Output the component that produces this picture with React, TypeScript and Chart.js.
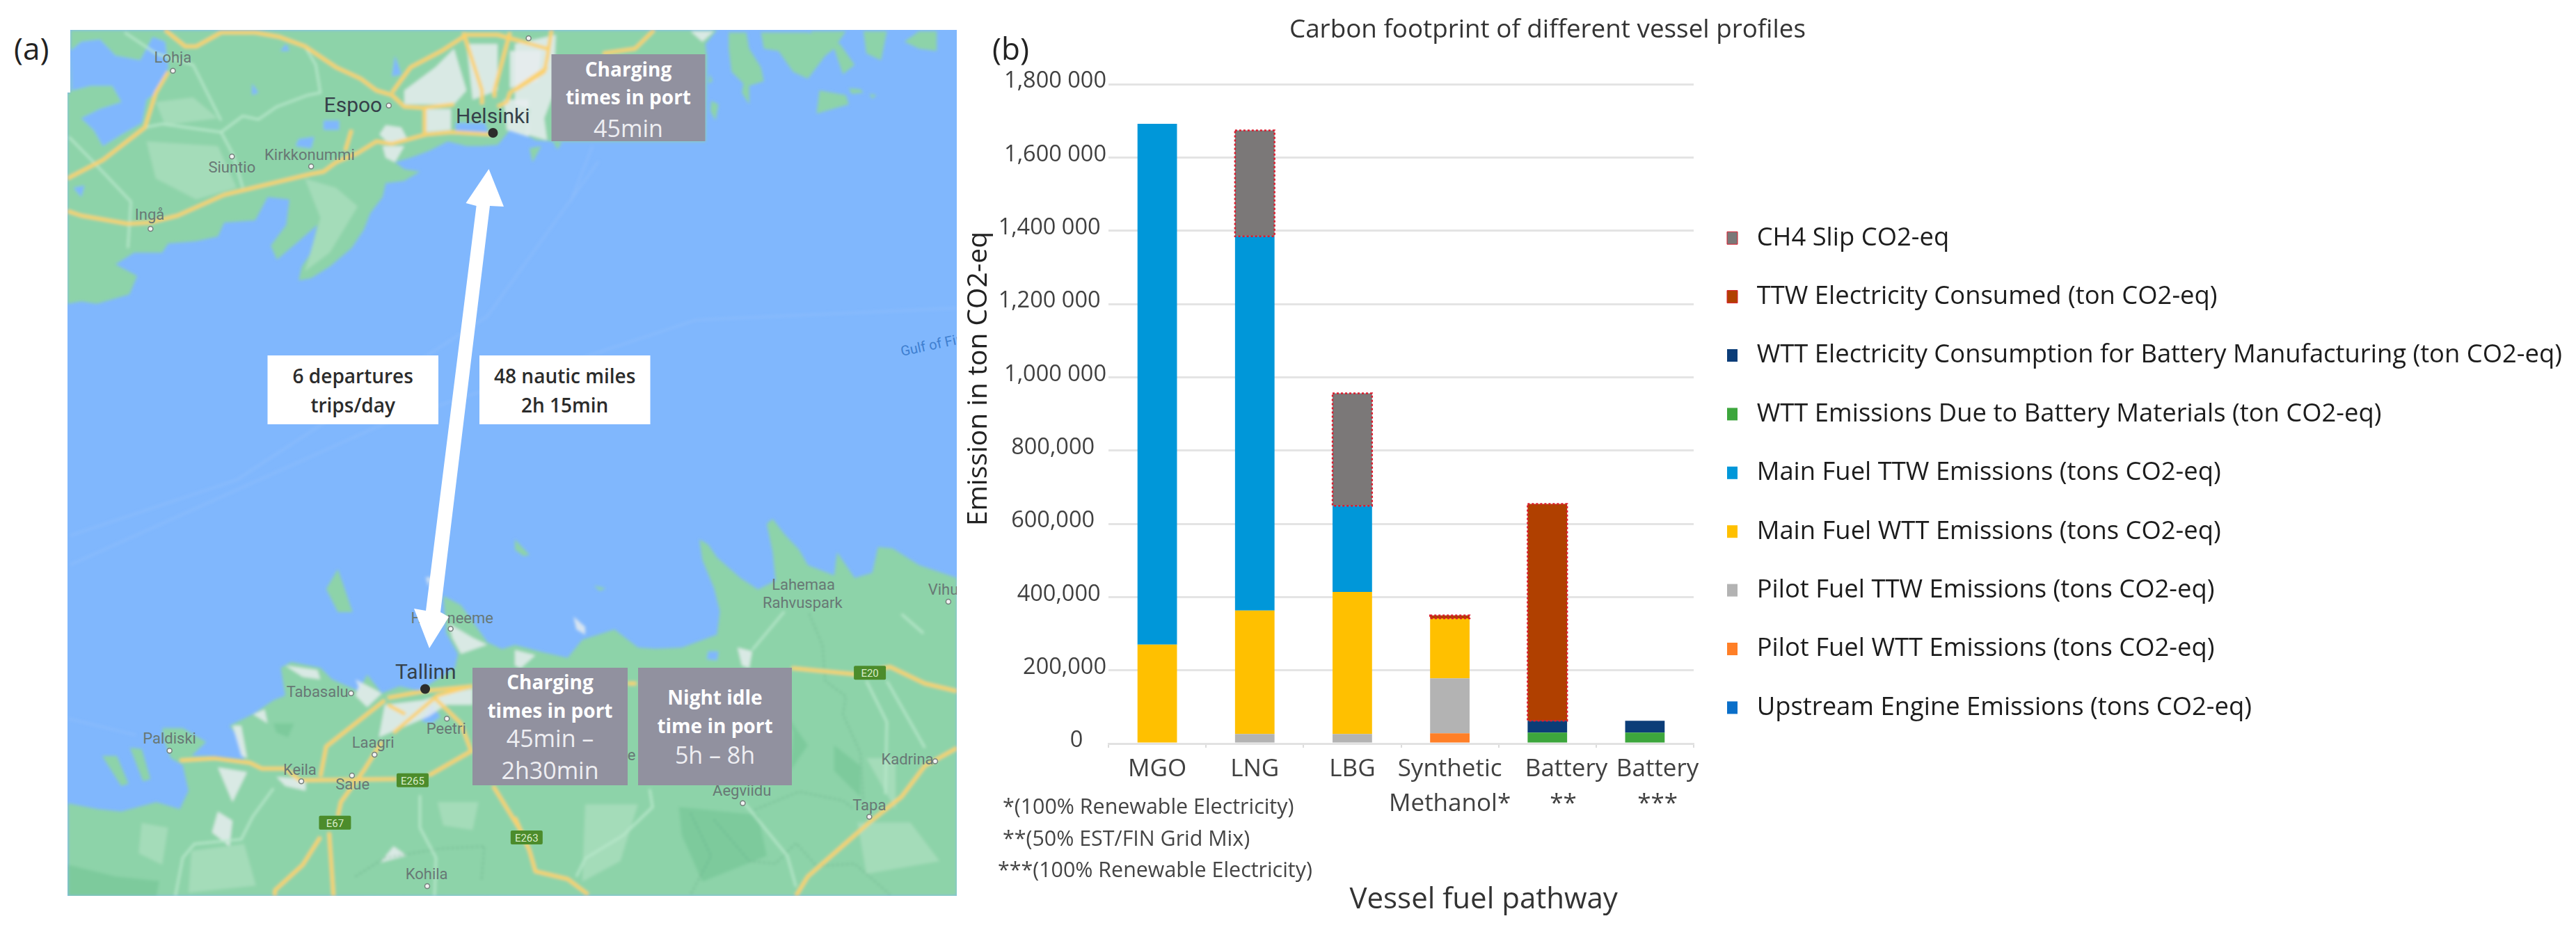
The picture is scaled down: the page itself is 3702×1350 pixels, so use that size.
import React, { useEffect, useRef } from "react";
import { Chart, registerables } from "chart.js";

Chart.register(...registerables);

const categories: (string | string[])[] = ["MGO", "LNG", "LBG", ["Synthetic", "Methanol*"], ["Battery", "**"], ["Battery", "***"]];
const upstreamEngine = [0, 0, 0, 0, 0, 0];
const pilotWtt = [0, 3000, 3000, 28000, 0, 0];
const pilotTtw = [0, 23000, 23000, 150000, 0, 0];
const mainWtt = [270000, 337000, 388000, 164000, 0, 0];
const mainTtw = [1422000, 1022000, 235000, 0, 0, 0];
const batteryMaterials = [0, 0, 0, 0, 30000, 30000];
const batteryElectricity = [0, 0, 0, 0, 32000, 32000];
const ttwElectricity = [0, 0, 0, 8000, 592000, 0];
const ch4Slip = [0, 289000, 307000, 0, 0, 0];
const yTickLabels = ["0", "200,000", "400,000", "600,000", "800,000", "1,000 000", "1,200 000", "1,400 000", "1,600 000", "1,800 000"];
const footnotes = ["*(100% Renewable Electricity)", "**(50% EST/FIN Grid Mix)", "***(100% Renewable Electricity)"];
const chartTitle = "Carbon footprint of different vessel profiles";
const xTitle = "Vessel fuel pathway";
const yTitle = "Emission in ton CO2-eq";

const FONT = "'Open Sans'";
const NB = "\u00A0";
const yTickTrail = [4, 0, 1, 2, 2, 0, 1, 1, 0, 0];
const xLabelLead: number[][] = [[0], [0], [0], [0, 0], [6, 5], [4, 4]];

const seriesDefs: any[] = [
  { label: "Upstream Engine Emissions (tons CO2-eq)", data: upstreamEngine, color: "#0a6fc9" },
  { label: "Pilot Fuel WTT Emissions (tons CO2-eq)", data: pilotWtt, color: "#ff7f27" },
  { label: "Pilot Fuel TTW Emissions (tons CO2-eq)", data: pilotTtw, color: "#b3b3b3" },
  { label: "Main Fuel WTT Emissions (tons CO2-eq)", data: mainWtt, color: "#ffc000" },
  { label: "Main Fuel TTW Emissions (tons CO2-eq)", data: mainTtw, color: "#0097d9" },
  { label: "WTT Emissions Due to Battery Materials (ton CO2-eq)", data: batteryMaterials, color: "#3da63d" },
  { label: "WTT Electricity Consumption for Battery Manufacturing (ton CO2-eq)", data: batteryElectricity, color: "#0b3d78" },
  { label: "TTW Electricity Consumed (ton CO2-eq)", data: ttwElectricity, color: "#b04000", dotted: true },
  { label: "CH4 Slip CO2-eq", data: ch4Slip, color: "#7b7878", dotted: true },
];

const dottedBorders = {
  id: "dottedBorders",
  afterDatasetsDraw(chart: any) {
    const ctx = chart.ctx;
    seriesDefs.forEach((s, i) => {
      if (!s.dotted) return;
      chart.getDatasetMeta(i).data.forEach((el: any, j: number) => {
        if (!s.data[j]) return;
        const { x, y, base, width } = el.getProps(["x", "y", "base", "width"], true);
        ctx.save();
        ctx.strokeStyle = "#dc1c2e";
        ctx.lineWidth = 2.5;
        ctx.setLineDash([3, 3]);
        ctx.strokeRect(x - width / 2, y, width, base - y);
        ctx.restore();
      });
    });
  },
};

const placeBlocks = {
  id: "placeBlocks",
  afterLayout(chart: any) {
    chart.titleBlock.left = 513;
    chart.titleBlock.right = 1500;
    chart.legend.top = 276;
    chart.legend.bottom = 1350;
    chart.legend.right = 2362;
  },
};

/* ---------- map panel: sketch, drawn as SVG ---------- */
type Crop = { x: number; y: number; sx: number; sy: number };
const A: Crop = { x: 90, y: 30, sx: 2.24, sy: 3 };
const B: Crop = { x: 740, y: 30, sx: 2.376, sy: 3 };
const C: Crop = { x: 90, y: 800, sx: 2.376, sy: 3 };
const D: Crop = { x: 740, y: 720, sx: 2.376, sy: 2.703 };
const R: Crop = { x: 0, y: 0, sx: 1, sy: 1 };

const pt = (c: Crop, x: number, y: number): [number, number] => [c.x + x / c.sx, c.y + y / c.sy];
const conv = (c: Crop, s: string) =>
  s.trim().split(/\s+/).map((p) => {
    const [x, y] = p.split(",").map(Number);
    const [a, b] = pt(c, x, y);
    return a.toFixed(1) + " " + b.toFixed(1);
  });
const poly = (...parts: [Crop, string][]) => "M" + parts.flatMap(([c, s]) => conv(c, s)).join(" L") + " Z";
const line = (c: Crop, s: string) => "M" + conv(c, s).join(" L");

const LAND = "#8dd3a9";
const WATER = "#80b7fd";
const LIGHT = "#a4dcb9";
const DARK = "#7dca9c";
const URBAN = "#e6ecee";
const ROAD = "#fbd16a";
const THIN = "#b8e8cb";

const mapOutline = "M101 43 L1375 43 L1375 1288 L97 1288 L97 133 L101 133 Z";

const northLand = poly(
  [A, "15,1220 15,310 25,310 25,40 1568,40"],
  [B, "690,40 650,100 655,150 650,520 125,520 70,515 30,480 50,400"],
  [A, "1520,510 1480,490 1440,470 1410,520 1400,535 1350,540 1300,540 1240,520 1180,560 1120,590 1070,610 1100,640 1150,650 1100,690 1040,700 1030,760 990,830 970,900 930,980 860,1060 800,1110 760,1120 770,1060 800,1000 820,880 760,950 690,1030 670,970 720,880 730,770 660,760 620,860 520,870 500,930 430,950 340,960 320,1000 230,1000 170,1050 240,1100 215,1180 110,1220 60,1210"]
);
const southLand = poly(
  [C, "18,1065 120,1090 200,1100 320,1060 400,1090 430,1010 410,900 370,870 345,790 340,740 410,740 490,800 440,860 500,860 620,875 600,780 570,730 650,680 720,620 760,600 745,480 780,455 880,480 920,530 1010,580 1040,510 1090,590 1150,560 1220,580 1340,480 1350,420 1310,330 1300,170 1360,210 1450,370 1500,400"],
  [D, "0,560 100,590 180,610 230,540 340,500 420,570 480,575 570,570 690,520 700,430 680,340 640,230 630,150 660,170 690,220 770,300 830,345 890,310 880,200 860,90 880,70 920,130 970,190 1000,250 1090,290 1100,200 1160,300 1220,280 1240,180 1290,185 1380,250 1510,300 1510,1535"],
  [C, "18,1465"]
);
const landIslands = [
  poly([B, "730,50 790,50 800,120 840,200 850,260 800,280 800,360 775,310 780,270 740,220 730,120"]),
  poly([B, "840,50 1000,50 1110,100 1160,190 1120,230 1090,120 1060,150 1000,250 950,220 900,130 850,120"]),
  poly([B, "1010,45 1130,45 1100,100 1020,90"]),
  poly([B, "1190,45 1270,45 1250,170 1200,140"]),
  poly([B, "1330,90 1380,45 1440,45 1440,130 1380,120"]),
  poly([B, "1040,300 1130,320 1140,360 1030,400"]),
  poly([B, "1140,290 1180,295 1190,310 1150,315"]),
  poly([B, "1210,315 1235,320 1220,335"]),
  poly([B, "50,550 90,540 60,610"]),
  poly([B, "130,520 160,525 145,555"]),
  poly([B, "665,230 675,260 660,270"]),
  poly([B, "670,345 695,360 685,430 668,390"]),
  poly([C, "940,55 990,240 940,240 900,140"]),
  poly([C, "135,860 185,860 225,980 200,990"]),
  poly([C, "230,825 270,830 300,960 275,970"]),
  poly([D, "0,150 50,210 30,215 0,190"]),
  poly([D, "270,330 310,340 290,350"]),
];
const lakes = [
  poly([A, "25,130 60,90 120,80 170,150 250,170 290,70 330,90 340,200 310,300 270,340 255,440 190,490 130,540 100,470 60,420 120,380 190,350 160,280 90,280 30,300"]),
  poly([A, "610,270 630,310 610,320"]),
  poly([A, "720,100 730,130 700,130"]),
  poly([A, "840,430 890,430 890,470 840,470"]),
  poly([A, "760,510 810,500 800,550 750,540"]),
  poly([A, "1070,150 1090,230 1060,240"]),
  poly([A, "35,720 70,710 60,760"]),
  poly([A, "1265,440 1360,440 1370,480 1340,490 1265,490"]),
  poly([C, "1260,640 1290,690 1260,720 1225,710"]),
  poly([D, "660,585 695,585 690,620 655,615"]),
];
const lightPatches = [
  poly([A, "300,350 420,330 500,420 330,450"]),
  poly([A, "270,520 500,540 560,720 430,770 300,680"]),
  poly([A, "780,680 880,720 950,800 860,1000 780,1080 830,850"]),
  poly([C, "270,1150 360,1170 340,1330 260,1280"]),
  poly([C, "1280,1060 1420,1060 1400,1180 1300,1160"]),
  poly([C, "440,1270 620,1240 660,1420 430,1450"]),
  poly([D, "1200,1000 1300,1000 1300,1200"]),
  poly([D, "1170,1250 1350,1250 1450,1400 1200,1450"]),
  poly([D, "240,1180 420,1180 360,1400 230,1480"]),
];
const darkPatches = [
  poly([C, "720,720 790,720 770,780 730,760"]),
  poly([C, "18,1330 180,1380 330,1400 320,1465 18,1465"]),
  poly([D, "560,1190 830,1220 860,1380 640,1480 570,1300"]),
  poly([D, "1090,950 1180,1030 1180,1150 1090,1050"]),
  poly([D, "920,820 1000,950 940,1050 950,900"]),
];
const urbanPatches = [
  poly([A, "1100,300 1200,200 1260,120 1300,300 1260,360 1100,360"]),
  poly([A, "1170,380 1250,380 1250,470 1170,480"]),
  poly([A, "1040,450 1090,460 1110,510 1050,530 1020,490"]),
  poly([A, "1440,130 1540,130 1530,260 1440,290"]),
  poly([A, "1300,100 1400,100 1400,300 1320,340"]),
  poly([A, "1420,340 1500,340 1500,500 1430,470"]),
  poly([A, "1030,540 1100,540 1070,610 1040,590"]),
  poly([B, "0,100 140,60 130,320 100,420 110,515 40,490 50,380 0,360"]),
  poly([B, "600,45 680,45 640,90"]),
  poly([C, "530,910 630,930 580,1060 560,1000"]),
  poly([C, "510,1190 530,1100 580,1140 570,1250"]),
  poly([C, "1000,530 1090,590 1040,650 1000,600 1010,560"]),
  poly([C, "1100,640 1230,620 1280,600 1400,570 1400,640 1310,640 1250,690 1080,780"]),
  poly([C, "760,470 870,490 880,530 820,520"]),
  poly([C, "650,680 690,660 700,720"]),
  poly([C, "580,730 610,730 630,870 610,860"]),
  poly([C, "1320,290 1400,350 1450,380 1360,420 1330,350"]),
  poly([C, "730,950 830,960 830,1010 760,990"]),
  poly([C, "1085,1320 1130,1250 1175,1290"]),
  poly([C, "1240,90 1260,90 1250,130"]),
  poly([D, "0,580 70,600 20,650 0,640"]),
  poly([D, "760,570 810,585 800,650 775,640"]),
  poly([D, "200,450 240,490 240,520 210,500"]),
];
const mainRoads = [
  line(A, "330,40 395,110 430,110 510,50 620,50 700,70 780,110 880,200 960,250 1010,300 1060,320 1100,370 1160,375 1260,360"),
  line(A, "340,220 300,310 265,460 130,600 15,680"),
  line(A, "15,820 60,840 210,875 280,870 370,840 520,750 800,660 840,650 880,610 950,570 1010,520 1060,530 1170,490 1250,480 1380,490"),
  line(A, "1060,310 1120,200 1220,130 1300,60 1400,60 1560,120"),
  line(A, "1165,375 1165,490"),
  line(A, "1290,50 1350,300 1350,360"),
  line(A, "1440,50 1390,300 1390,330"),
  line(A, "1560,200 1440,310 1430,350 1400,370"),
  line(A, "930,470 910,560"),
  line(B, "125,40 110,160 100,220 0,300"),
  line(B, "300,140 410,120 475,40"),
  line(C, "400,880 520,870 640,890 680,915 760,915 810,965 1140,960"),
  line(C, "1250,945 1395,840 1360,720 1270,610"),
  line(C, "1395,560 1280,600 1130,760"),
  line(C, "1110,610 1240,580 1400,560"),
  line(C, "1100,620 900,820 880,950"),
  line(C, "1110,640 1170,680"),
  line(C, "1090,800 1030,920 950,1060 940,1120"),
  line(C, "910,1190 925,1465"),
  line(C, "880,1210 820,1330 725,1440 725,1465"),
  line(C, "1470,990 1568,1190"),
  line(D, "945,650 1170,675 1280,645 1400,710 1510,740"),
  line(D, "385,710 415,710"),
  line(D, "0,1230 50,1360 70,1440 180,1470 250,1530"),
  line(D, "1510,960 1400,1030 1320,1150 1210,1250 1130,1330 1000,1460 960,1535"),
];
const thinRoads = [
  line(A, "265,460 320,445 510,480 580,410 630,425 690,370 790,320 830,310 815,190 780,110"),
  line(A, "510,480 550,580 580,720"),
  line(A, "20,500 100,610 220,780 210,980"),
  line(A, "200,50 300,140 420,190 510,430"),
  line(C, "720,1000 650,1120 610,1220 450,1240 410,1300 385,1465"),
  line(C, "1220,1030 1220,1170 1275,1300 1270,1465"),
  line(D, "810,580 920,430"),
  line(D, "460,1120 470,1190 370,1300 240,1390 210,1460"),
  line(D, "780,1170 930,1380 960,1500"),
  line(D, "1200,700 1270,860 1265,1140"),
  line(D, "1270,700 1400,960"),
  line(D, "1320,440 1395,515"),
];
const trails = [
  line(D, "1005,440 1050,560 1060,700 1130,760 1120,830 1180,980 1190,1160"),
  line(D, "600,1215 670,1380 600,1530"),
  line(D, "680,1240 800,1400 890,1410 960,1330 1030,1420 1160,1410 1280,1530"),
  line(D, "820,1200 970,1130 1120,1165 1160,1200"),
  line(C, "1000,1380 1100,1300 1290,1260 1440,1250 1430,1400"),
];
const seaLanes = [
  line(B, "265,540 190,780"),
  line(R, "101,770 340,690 700,455 860,232"),
  line(R, "101,812 550,610 1000,460 1375,443"),
  line(C, "20,700 250,770"),
];

const bigLabels: [string, Crop, number, number][] = [
  ["Espoo", A, 935, 360],
  ["Helsinki", A, 1385, 408],
  ["Tallinn", C, 1240, 495],
];
const smallLabels: [string, Crop, number, number][] = [
  ["Lohja", A, 355, 158],
  ["Siuntio", A, 545, 632],
  ["Kirkkonummi", A, 795, 578],
  ["Ingå", A, 280, 838],
  ["Tabasalu", C, 870, 585],
  ["Paldiski", C, 365, 785],
  ["Keila", C, 810, 920],
  ["Saue", C, 990, 985],
  ["Laagri", C, 1060, 805],
  ["Peetri", C, 1310, 745],
  ["Kohila", C, 1243, 1370],
  ["Haabneeme", C, 1330, 268],
  ["Lahemaa", D, 985, 328],
  ["Rahvuspark", D, 982, 398],
  ["Vihula", D, 1483, 345],
  ["Kadrina", D, 1340, 1005],
  ["Aegviidu", D, 775, 1128],
  ["Tapa", D, 1210, 1185],
  ["e", D, 398, 990],
];
const townDots: [Crop, number, number][] = [
  [A, 355, 215], [A, 545, 585], [A, 800, 628], [A, 283, 897], [A, 1500, 75], [A, 1050, 365],
  [C, 985, 590], [C, 365, 838], [C, 815, 970], [C, 988, 945], [C, 1065, 855], [C, 1312, 700], [C, 1245, 1422], [C, 1325, 312],
  [D, 778, 1175], [D, 1210, 1228], [D, 1435, 1012], [D, 1480, 392],
];
const shields: [string, Crop, number, number][] = [["E265", C, 1195, 965], ["E67", C, 930, 1148], ["E263", D, 40, 1308], ["E20", D, 1212, 668]];

const greyBoxes = [
  { x: 792.5, y: 78, w: 221, h: 125, bold: [["Charging", 100], ["times in port", 140]], thin: [["45min", 185]] },
  { x: 679, y: 960, w: 223, h: 169, bold: [["Charging", 981], ["times in port", 1021.5]], thin: [["45min –", 1062], ["2h30min", 1108]] },
  { x: 917, y: 960, w: 221, h: 169, bold: [["Night idle", 1003], ["time in port", 1044]], thin: [["5h – 8h", 1086]] },
];
const whiteBoxes = [
  { x: 384.5, lines: ["6 departures", "trips/day"] },
  { x: 689, lines: ["48 nautic miles", "2h 15min"] },
];

function MapPanel() {
  const p = (c: Crop, x: number, y: number) => {
    const [a, b] = pt(c, x, y);
    return { x: a, y: b };
  };
  return (
    <svg viewBox="0 0 1400 1350" style={{ position: "absolute", left: 0, top: 0, width: 1400, height: 1350 }}>
      <defs>
        <clipPath id="mapClip"><path d={mapOutline} /></clipPath>
        <filter id="soft" x="-5%" y="-5%" width="110%" height="110%"><feGaussianBlur stdDeviation="2" /></filter>
      </defs>
      <g clipPath="url(#mapClip)">
        <path d={mapOutline} fill={WATER} />
        <g filter="url(#soft)">
          <path d={northLand} fill={LAND} />
          <path d={southLand} fill={LAND} />
          {landIslands.map((d) => <path key={d} d={d} fill={LAND} />)}
          {lightPatches.map((d) => <path key={d} d={d} fill={LIGHT} />)}
          {darkPatches.map((d) => <path key={d} d={d} fill={DARK} />)}
          {lakes.map((d) => <path key={d} d={d} fill={WATER} />)}
          {urbanPatches.map((d) => <path key={d} d={d} fill={URBAN} fillOpacity={0.85} />)}
          {seaLanes.map((d) => <path key={d} d={d} fill="none" stroke="#93c0fb" strokeWidth={1.5} />)}
          {trails.map((d) => <path key={d} d={d} fill="none" stroke="#5fa680" strokeWidth={1.5} strokeDasharray="3 4" />)}
          {thinRoads.map((d) => <path key={d} d={d} fill="none" stroke={THIN} strokeWidth={3} strokeLinejoin="round" />)}
          {mainRoads.map((d) => <path key={d} d={d} fill="none" stroke={ROAD} strokeWidth={5} strokeLinejoin="round" />)}
        </g>
        {townDots.map(([c, x, y]) => {
          const q = p(c, x, y);
          return <circle key={q.x + "-" + q.y} cx={q.x} cy={q.y} r={3.5} fill="#f2f2f2" stroke="#74807c" strokeWidth={1.5} />;
        })}
        {shields.map(([t, c, x, y]) => {
          const q = p(c, x, y);
          return (
            <g key={t}>
              <rect x={q.x - 23} y={q.y - 10} width={46} height={20} rx={2} fill="#4c8c2b" />
              <text x={q.x} y={q.y + 6} textAnchor="middle" fontFamily="Roboto" fontSize={15} fill="#d9edc9">{t}</text>
            </g>
          );
        })}
        {smallLabels.map(([t, c, x, y]) => {
          const q = p(c, x, y);
          return <text key={t} x={q.x} y={q.y + 7} textAnchor="middle" fontFamily="Roboto" fontSize={22} fill="#687875">{t}</text>;
        })}
        {bigLabels.map(([t, c, x, y]) => {
          const q = p(c, x, y);
          return <text key={t} x={q.x} y={q.y + 11} textAnchor="middle" fontFamily="Roboto" fontSize={30} fill="#36414a">{t}</text>;
        })}
        <text x={1296} y={512} fontFamily="Roboto" fontSize={20} fill="#3f7fd0" transform="rotate(-12 1296 512)">Gulf of Finland</text>
        <circle cx={708.5} cy={191} r={7} fill="#2c2c2c" />
        <circle cx={611} cy={990.5} r={7} fill="#2c2c2c" />
        <path d="M702.5 243 L724 297 L704 296 L633 880 L645 887 L617 932 L595 875 L612 878 L684.6 296 L669.5 292 Z" fill="#fff" />
      </g>
      {greyBoxes.map((b) => (
        <g key={b.x} fontFamily={FONT} textAnchor="middle">
          <rect x={b.x} y={b.y} width={b.w} height={b.h} fill="#91919f" />
          {b.bold.map(([t, y]) => <text key={t} x={b.x + b.w / 2} y={(y as number) + 10} fontSize={28} fontWeight={700} fill="#fff">{t}</text>)}
          {b.thin.map(([t, y]) => <text key={t} x={b.x + b.w / 2} y={(y as number) + 12} fontSize={34} fill="#eeeef2">{t}</text>)}
        </g>
      ))}
      {whiteBoxes.map((b) => (
        <g key={b.x} fontFamily={FONT} textAnchor="middle">
          <rect x={b.x} y={511} width={245.5} height={99} fill="#fff" />
          {b.lines.map((t, i) => <text key={t} x={b.x + 122.7} y={551 + i * 42} fontSize={28} fontWeight={600} fill="#2b2b2b">{t}</text>)}
        </g>
      ))}
    </svg>
  );
}

export default function App() {
  const ref = useRef<HTMLCanvasElement>(null);
  useEffect(() => {
    const chart = new Chart(ref.current as any, {
      type: "bar",
      data: {
        labels: categories as any,
        datasets: seriesDefs.map((s) => ({
          label: s.label,
          data: s.data,
          backgroundColor: s.color,
          borderWidth: 0,
          barPercentage: 1,
          categoryPercentage: 0.405,
        })),
      },
      plugins: [dottedBorders, placeBlocks],
      options: {
        animation: false,
        responsive: false,
        devicePixelRatio: 1,
        layout: { padding: { left: 43, right: 268, top: 21, bottom: 0 } },
        plugins: {
          title: {
            display: true,
            text: chartTitle,
            align: "start",
            color: "#333",
            font: { family: FONT, size: 36.8, weight: "normal" },
            padding: { top: 0, bottom: 56 },
          },
          legend: {
            position: "right",
            align: "start",
            reverse: true,
            maxWidth: 1000,
            labels: {
              boxWidth: 15,
              boxHeight: 18,
              padding: 48,
              color: "#1c1c1c",
              font: { family: FONT, size: 36.4 },
              generateLabels: (c: any) =>
                c.data.datasets.map((d: any, i: number) => ({
                  text: NB + d.label,
                  fillStyle: d.backgroundColor,
                  strokeStyle: "#dc1c2e",
                  lineWidth: seriesDefs[i].dotted ? 1 : 0,
                  datasetIndex: i,
                  fontColor: "#1c1c1c",
                })),
            },
          },
          tooltip: { enabled: false },
        },
        scales: {
          x: {
            stacked: true,
            afterFit: (s: any) => { s.height = 281; },
            grid: { drawOnChartArea: false, drawTicks: true, tickLength: 6, color: "#dcdcdc", lineWidth: 2 },
            border: { color: "#e2e2e2", width: 3 },
            ticks: {
              color: "#404040",
              padding: 6,
              maxRotation: 0,
              autoSkip: false,
              font: { family: FONT, size: 35, lineHeight: 1.43 },
              callback: (_v: any, i: number) => {
                const cat = categories[i];
                if (Array.isArray(cat)) return cat.map((t, k) => NB.repeat(xLabelLead[i][k]) + t);
                return cat;
              },
            },
            title: {
              display: true,
              text: xTitle + NB.repeat(10),
              align: "end",
              color: "#333",
              font: { family: FONT, size: 42 },
              padding: { top: 0, bottom: 31 },
            },
          },
          y: {
            stacked: true,
            min: 0,
            max: 1800000,
            afterFit: (s: any) => { s.width = 210; },
            grid: { color: "#e4e4e4", lineWidth: 3, drawTicks: false },
            border: { display: false },
            ticks: {
              stepSize: 200000,
              padding: 3,
              labelOffset: -4,
              color: "#404040",
              font: { family: FONT, size: 32.5 },
              callback: (v: any) => {
                const i = Math.round(v / 200000);
                return yTickLabels[i] + NB.repeat(yTickTrail[i]);
              },
            },
            title: {
              display: true,
              text: NB.repeat(10) + yTitle,
              color: "#222",
              font: { family: FONT, size: 39 },
              padding: { top: 0, bottom: 0 },
            },
          },
        },
      } as any,
    });
    return () => chart.destroy();
  }, []);

  const panelLabel = (t: string, x: number) => (
    <div style={{ position: "absolute", left: x, top: 39, fontFamily: FONT, fontSize: 44, lineHeight: "60px", color: "#222" }}>{t}</div>
  );

  return (
    <div style={{ position: "absolute", left: 0, top: 0, width: 3702, height: 1350, background: "#fff", overflow: "hidden" }}>
      <MapPanel />
      {panelLabel("(a)", 20)}
      <canvas ref={ref} width={2362} height={1350} style={{ position: "absolute", left: 1340, top: 0, display: "block" }} />
      {panelLabel("(b)", 1426)}
      {footnotes.map((t, i) => (
        <div key={t} style={{ position: "absolute", left: i === 2 ? 1434 : 1441, top: 1138 + i * 45.5, fontFamily: FONT, fontSize: 30.4, lineHeight: "42px", color: "#444", whiteSpace: "nowrap" }}>{t}</div>
      ))}
    </div>
  );
}
